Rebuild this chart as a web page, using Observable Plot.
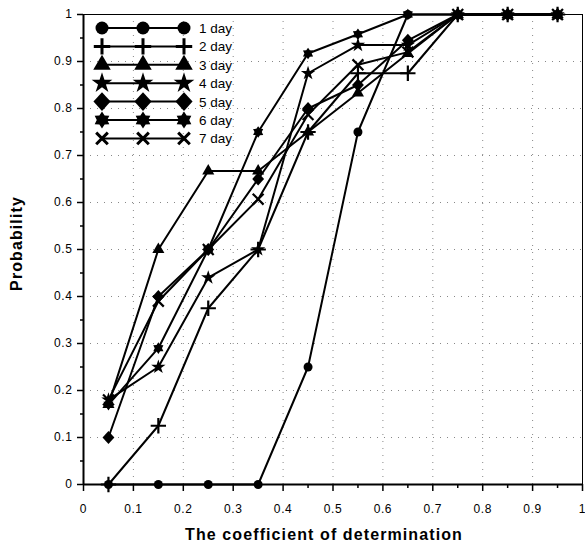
<!DOCTYPE html>
<html><head><meta charset="utf-8">
<script src="https://cdn.jsdelivr.net/npm/d3@7"></script>
<script src="https://cdn.jsdelivr.net/npm/@observablehq/plot@0.6"></script>
<style>
body{margin:0;background:#fff}
#chart{position:relative;width:585px;height:553px}
svg{font-family:"Liberation Sans",Arial,sans-serif}
</style>
</head><body><div id="chart"></div>
<script>
// ---- data ----
const xValues = [0.05, 0.15, 0.25, 0.35, 0.45, 0.55, 0.65, 0.75, 0.85, 0.95];
const seriesNames = ["1 day", "2 day", "3 day", "4 day", "5 day", "6 day", "7 day"];
const day1 = [0, 0, 0, 0, 0.25, 0.75, 1, 1, 1, 1];
const day2 = [0, 0.125, 0.375, 0.5, 0.75, 0.875, 0.875, 1, 1, 1];
const day3 = [0.17, 0.5, 0.667, 0.667, 0.75, 0.833, 0.917, 1, 1, 1];
const day4 = [0.18, 0.25, 0.44, 0.5, 0.875, 0.935, 0.935, 1, 1, 1];
const day5 = [0.1, 0.4, 0.5, 0.65, 0.8, 0.85, 0.945, 1, 1, 1];
const day6 = [0.17, 0.29, 0.5, 0.75, 0.917, 0.958, 1, 1, 1, 1];
const day7 = [0.18, 0.39, 0.5, 0.607, 0.787, 0.893, 0.92, 1, 1, 1];
const seriesValues = [day1, day2, day3, day4, day5, day6, day7];
const xTicks = [0, 0.1, 0.2, 0.3, 0.4, 0.5, 0.6, 0.7, 0.8, 0.9, 1];
const xTickLabels = ["0", "0.1", "0.2", "0.3", "0.4", "0.5", "0.6", "0.7", "0.8", "0.9", "1"];
const yTicks = [0, 0.1, 0.2, 0.3, 0.4, 0.5, 0.6, 0.7, 0.8, 0.9, 1];
const yTickLabels = ["0", "0.1", "0.2", "0.3", "0.4", "0.5", "0.6", "0.7", "0.8", "0.9", "1"];
const minorTicks = [0.05, 0.15, 0.25, 0.35, 0.45, 0.55, 0.65, 0.75, 0.85, 0.95];
const gridTicks = [0.1, 0.2, 0.3, 0.4, 0.5, 0.6, 0.7, 0.8, 0.9];
const xTitle = "The coefficient of determination";
const yTitle = "Probability";

// ---- symbols ----
const hexagram = {draw(ctx, size) {
  const R = Math.sqrt(size / Math.PI) * 1.3, r0 = R * 0.62;
  for (let k = 0; k < 12; k++) {
    const a = k * Math.PI / 6 - Math.PI / 2, rr = k % 2 ? r0 : R;
    const px = rr * Math.cos(a), py = rr * Math.sin(a);
    k ? ctx.lineTo(px, py) : ctx.moveTo(px, py);
  }
  ctx.closePath();
}};
const diamond = {draw(ctx, size) {
  const s = Math.sqrt(size / 2) * 1.05;
  ctx.moveTo(0, -s * 1.1); ctx.lineTo(s, 0); ctx.lineTo(0, s * 1.1); ctx.lineTo(-s, 0); ctx.closePath();
}};
const symbols = [d3.symbolCircle, d3.symbolPlus, d3.symbolTriangle, d3.symbolStar, diamond, hexagram, d3.symbolTimes];
const strokeSym = [false, true, false, false, false, false, true];

const rows = seriesNames.flatMap((s, i) => xValues.map((x, j) => ({series: s, x, y: seriesValues[i][j]})));

const marks = [
  Plot.ruleX(gridTicks, {stroke: "#888", strokeDasharray: "1,6", strokeWidth: 1}),
  Plot.ruleY(gridTicks, {stroke: "#888", strokeDasharray: "1,6", strokeWidth: 1}),
  Plot.line(rows, {x: "x", y: "y", z: "series", stroke: "black", strokeWidth: 2}),
  ...seriesNames.map((s, i) => Plot.dot(rows.filter(d => d.series === s), {
    x: "x", y: "y", symbol: symbols[i], r: strokeSym[i] ? 5 : 4.5,
    fill: strokeSym[i] ? "none" : "black",
    stroke: strokeSym[i] ? "black" : "none",
    strokeWidth: strokeSym[i] ? 2.2 : 0
  })),
  Plot.axisX(xTicks, {tickSize: 7, tickPadding: 13, strokeWidth: 1.5, fontSize: 12,
    tickFormat: d => xTickLabels[xTicks.indexOf(d)], label: null}),
  Plot.axisX(minorTicks, {tickSize: 4, strokeWidth: 1.5, tickFormat: () => "", label: null}),
  Plot.axisY(yTicks, {tickSize: 6, tickPadding: 5, strokeWidth: 1.5, fontSize: 12,
    tickFormat: d => yTickLabels[yTicks.indexOf(d)], label: null}),
  Plot.axisY(minorTicks, {tickSize: 3, strokeWidth: 1.5, tickFormat: () => "", label: null}),
  Plot.frame({stroke: "black", strokeWidth: 1}),
  Plot.ruleX([0], {stroke: "black", strokeWidth: 2}),
  Plot.ruleY([0], {stroke: "black", strokeWidth: 2}),
  Plot.text([yTitle], {frameAnchor: "left", textAnchor: "middle", dx: -67, dy: -6, rotate: -90,
    text: d => d, fontWeight: "bold", fontSize: 16}),
  Plot.text([xTitle], {frameAnchor: "bottom", textAnchor: "middle", dx: -9, dy: 55,
    text: d => d, fontWeight: "bold", fontSize: 16})
];

const chart = Plot.plot({
  width: 585, height: 553,
  marginLeft: 83, marginRight: 3, marginTop: 14, marginBottom: 69,
  x: {domain: [0, 1]},
  y: {domain: [0, 1]},
  style: {fontSize: "12px", fontFamily: '"Liberation Sans", Arial, sans-serif', color: "black", background: "white", overflow: "visible"},
  marks
});
document.getElementById("chart").appendChild(chart);

const svg = d3.select(chart);
// widen the axis titles like the reference's lettering
svg.selectAll("text").filter(function() { return this.textContent === xTitle || this.textContent === yTitle; })
  .style("letter-spacing", "1.1px");
svg.selectAll("g[aria-label^='y-axis tick label'] text, g[aria-label^='x-axis tick label'] text")
  .style("letter-spacing", "0.6px");

// ---- legend ----
const lg = svg.append("g").attr("class", "legend").attr("text-anchor", "start");
seriesNames.forEach((s, i) => {
  const y = 28 + i * 18.4;
  lg.append("line").attr("x1", 102).attr("x2", 184).attr("y1", y).attr("y2", y)
    .attr("stroke", "black").attr("stroke-width", 2);
  [102, 143, 184].forEach(x => {
    const size = strokeSym[i] ? 90 : Math.PI * 6.5 * 6.5;
    lg.append("path").attr("d", d3.symbol(symbols[i], size)())
      .attr("transform", `translate(${x},${y})`)
      .attr("fill", strokeSym[i] ? "none" : "black")
      .attr("stroke", strokeSym[i] ? "black" : "none")
      .attr("stroke-width", strokeSym[i] ? 3 : 0);
  });
  lg.append("text").attr("x", 199).attr("y", y + 5).attr("font-size", 13.5)
    .attr("text-anchor", "start").attr("fill", "black").text(s);
});
</script>
</body></html>
